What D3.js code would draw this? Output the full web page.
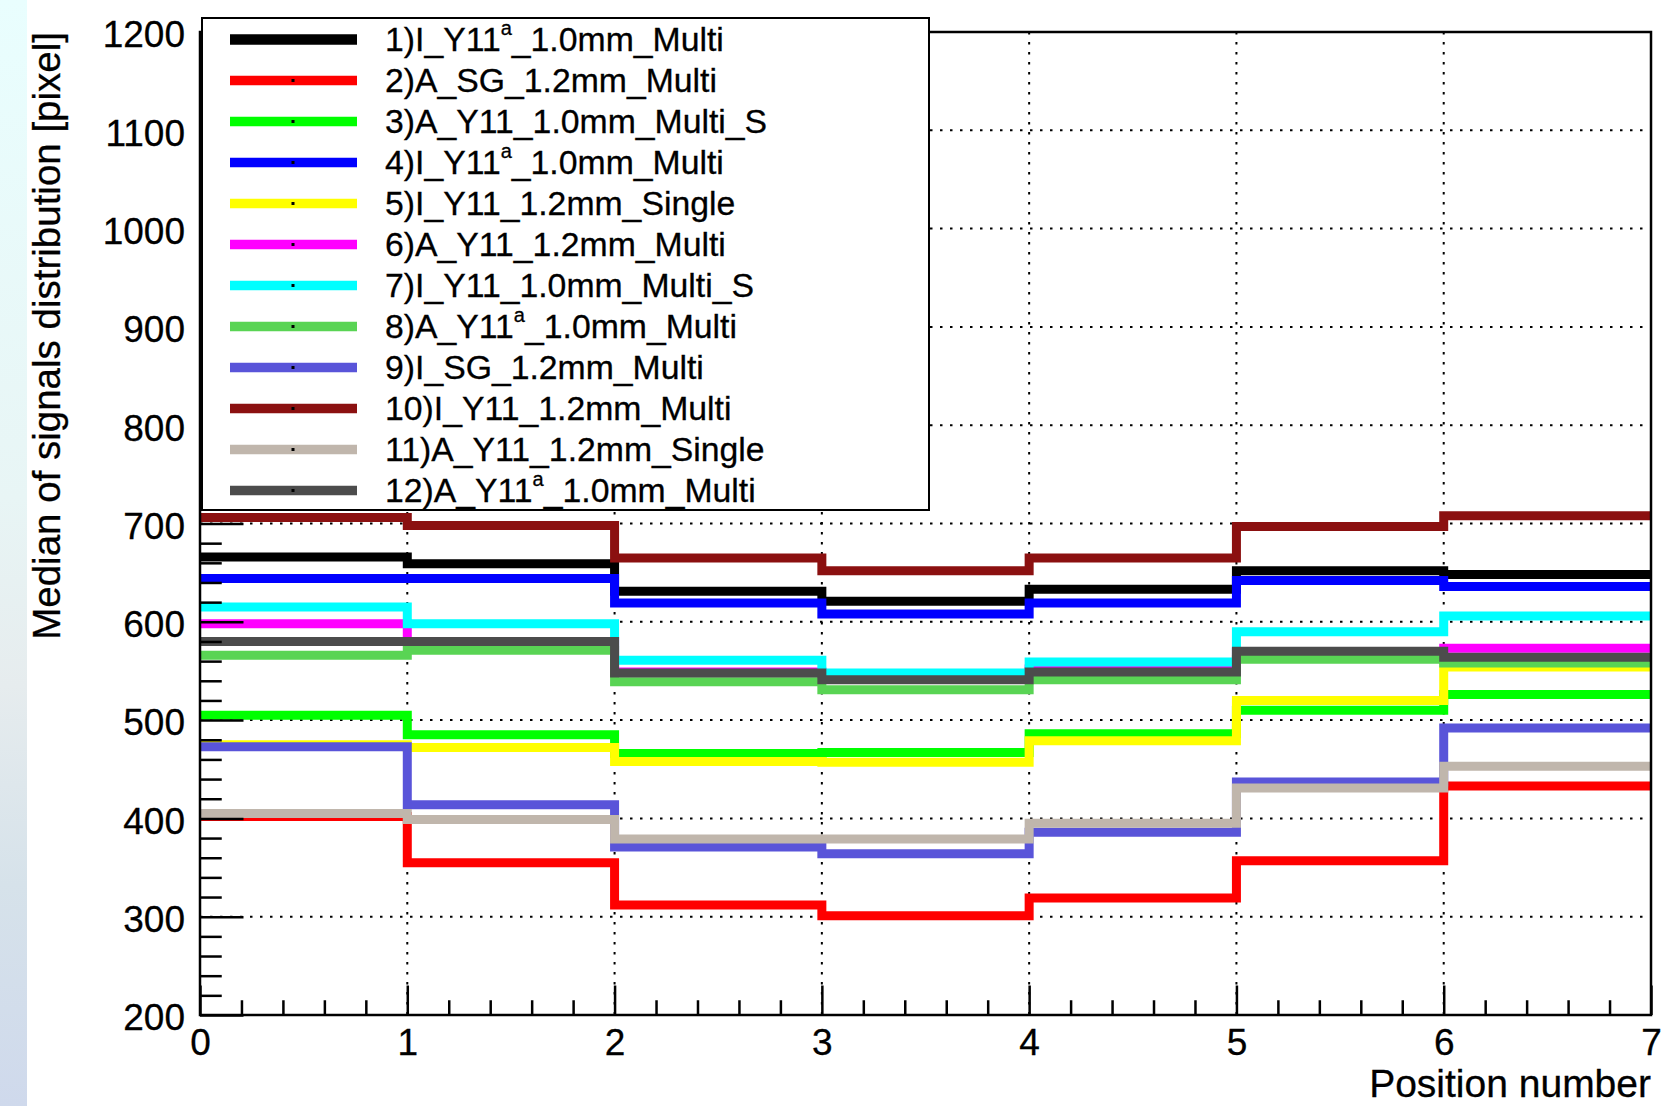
<!DOCTYPE html>
<html>
<head>
<meta charset="utf-8">
<script src="https://cdn.jsdelivr.net/npm/d3@7"></script>
<style>
  body { margin: 0; background: #ffffff; }
  text { font-family: "Liberation Sans", Arial, Helvetica, sans-serif; fill: #000; stroke: #000; stroke-width: 0.3px; }
</style>
</head>
<body>
<div id="graph"></div>
<script>
// Bin edges along the x axis (position number) and axis tick values
const binEdges = [0, 1, 2, 3, 4, 5, 6, 7]
const xTicks = [0, 1, 2, 3, 4, 5, 6, 7]
const yTicks = [200, 300, 400, 500, 600, 700, 800, 900, 1000, 1100, 1200]

// Legend labels ("^a" marks the superscript a)
const seriesNames = [
  "1)I_Y11^a_1.0mm_Multi",
  "2)A_SG_1.2mm_Multi",
  "3)A_Y11_1.0mm_Multi_S",
  "4)I_Y11^a_1.0mm_Multi",
  "5)I_Y11_1.2mm_Single",
  "6)A_Y11_1.2mm_Multi",
  "7)I_Y11_1.0mm_Multi_S",
  "8)A_Y11^a_1.0mm_Multi",
  "9)I_SG_1.2mm_Multi",
  "10)I_Y11_1.2mm_Multi",
  "11)A_Y11_1.2mm_Single",
  "12)A_Y11^a_1.0mm_Multi"
]
const seriesColors = ["#000000", "#ff0000", "#00ff00", "#0000ff", "#ffff00", "#ff00ff",
  "#00ffff", "#59d454", "#5954d9", "#8b1010", "#c0b6ac", "#4c4c4c"]

// Median per position bin (0-1, 1-2, ... 6-7)
const s1 = [666, 659, 631, 621, 633, 652, 648]
const s2 = [402, 355, 312, 301, 319, 357, 433]
const s3 = [505, 485, 466, 467, 486, 510, 526]
const s4 = [644, 644, 619, 608, 619, 642, 636]
const s5 = [475, 472, 458, 457, 479, 520, 554]
const s6 = [598, 580, 549, 542, 552, 569, 573]
const s7 = [615, 598, 561, 548, 559, 590, 606]
const s8 = [566, 571, 539, 531, 541, 562, 558]
const s9 = [473, 414, 371, 364, 386, 437, 492]
const s10 = [706, 698, 665, 652, 665, 697, 708]
const s11 = [405, 399, 379, 379, 395, 431, 453]
const s12 = [580, 580, 548, 541, 549, 570, 564]
const seriesValues = [s1, s2, s3, s4, s5, s6, s7, s8, s9, s10, s11, s12]

const width = 1665
const height = 1106

const svg = d3.select('#graph').append("svg").attr("width", width).attr("height", height)

// Plot frame
const margin = { top: 32, right: 14, bottom: 91, left: 200 }
const gWidth = width - margin.left - margin.right
const gHeight = height - margin.top - margin.bottom

// slide background strip on the far left
const grad = svg.append("defs").append("linearGradient")
  .attr("id", "strip").attr("x1", 0).attr("y1", 0).attr("x2", 0).attr("y2", 1)
grad.append("stop").attr("offset", "0").attr("stop-color", "#e9fefe")
grad.append("stop").attr("offset", "0.45").attr("stop-color", "#e8f5f5")
grad.append("stop").attr("offset", "0.62").attr("stop-color", "#e6ecee")
grad.append("stop").attr("offset", "0.8").attr("stop-color", "#d6e2ea")
grad.append("stop").attr("offset", "1").attr("stop-color", "#cfd9ec")
svg.append("rect").attr("x", 0).attr("y", 0).attr("width", 27).attr("height", height).attr("fill", "url(#strip)")

const graph = svg.append('g').attr("transform", `translate(${margin.left}, ${margin.top})`)

const xScale = d3.scaleLinear().domain([0, 7]).range([0, gWidth])
const yScale = d3.scaleLinear().domain([200, 1200]).range([gHeight, 0])

// Dotted grid
graph.append("g").selectAll("line").data(yTicks.slice(1, -1)).enter().append("line")
  .attr("x1", 0).attr("x2", gWidth)
  .attr("y1", d => yScale(d)).attr("y2", d => yScale(d))
  .attr("stroke", "#000").attr("stroke-width", 2).attr("stroke-dasharray", "2.5,7.5")
graph.append("g").selectAll("line").data(xTicks.slice(1, -1)).enter().append("line")
  .attr("y1", 0).attr("y2", gHeight)
  .attr("x1", d => xScale(d)).attr("x2", d => xScale(d))
  .attr("stroke", "#000").attr("stroke-width", 2).attr("stroke-dasharray", "2.5,7.5")

// Step histograms, drawn in order so later ones sit on top
const step = d3.line()
  .x(d => xScale(d[0]))
  .y(d => yScale(d[1]))
  .curve(d3.curveStepAfter)

seriesValues.forEach((vals, i) => {
  const pts = binEdges.map((e, k) => [e, vals[Math.min(k, vals.length - 1)]])
  graph.append("path")
    .attr("d", step(pts))
    .attr("fill", "none")
    .attr("stroke", seriesColors[i])
    .attr("stroke-width", 9)
    .attr("stroke-linejoin", "miter")
})

// Axes (ticks pointing inside)
const minorY = d3.range(200, 1201, 20).filter(v => v % 100 != 0)
const minorX = d3.range(0, 7.001, 0.2).map(v => +v.toFixed(1)).filter(v => v % 1 != 0)

graph.append('g').attr("class", "axis y-major")
  .call(d3.axisLeft(yScale).tickValues(yTicks).tickSizeInner(-43.5).tickSizeOuter(0).tickPadding(15).tickFormat(d3.format("d")))
graph.append('g').attr("class", "axis")
  .call(d3.axisLeft(yScale).tickValues(minorY).tickSizeInner(-21.75).tickSizeOuter(0).tickFormat(""))

graph.append('g').attr("class", "axis").attr("transform", `translate(0, ${gHeight})`)
  .call(d3.axisBottom(xScale).tickValues(xTicks).tickSizeInner(-29.5).tickSizeOuter(0).tickPadding(14).tickFormat(d3.format("d")))
graph.append('g').attr("class", "axis").attr("transform", `translate(0, ${gHeight})`)
  .call(d3.axisBottom(xScale).tickValues(minorX).tickSizeInner(-14.75).tickSizeOuter(0).tickFormat(""))

svg.selectAll(".axis .domain").remove()
svg.selectAll(".axis line").attr("stroke", "#000").attr("stroke-width", 2.5)
svg.selectAll(".axis text").attr("font-size", 37).attr("font-family", '"Liberation Sans", Arial, sans-serif').attr("fill", "#000")
svg.selectAll(".y-major text").attr("dy", "0.4em")

// Frame box
graph.append("rect").attr("x", 0).attr("y", 0).attr("width", gWidth).attr("height", gHeight)
  .attr("fill", "none").attr("stroke", "#000").attr("stroke-width", 2.5)

// Axis titles
svg.append("text")
  .attr("transform", `translate(60, ${margin.top}) rotate(-90)`)
  .attr("text-anchor", "end")
  .attr("font-size", 38.5)
  .text("Median of signals distribution [pixel]")

svg.append("text")
  .attr("x", margin.left + gWidth).attr("y", 1097)
  .attr("text-anchor", "end")
  .attr("font-size", 39)
  .text("Position number")

// Legend
const legend = svg.append("g")
legend.append("rect").attr("x", 202).attr("y", 18).attr("width", 727).attr("height", 492)
  .attr("fill", "#fff").attr("stroke", "#000").attr("stroke-width", 2)

seriesNames.forEach((name, i) => {
  const cy = 39.5 + 41 * i
  legend.append("line")
    .attr("x1", 230).attr("x2", 357).attr("y1", cy).attr("y2", cy)
    .attr("stroke", seriesColors[i]).attr("stroke-width", i == 0 ? 10.5 : 9.5)
  legend.append("rect").attr("x", 291.5).attr("y", cy - 1.5).attr("width", 3).attr("height", 3).attr("fill", "#000")

  const parts = name.split("^a")
  const t = legend.append("text").attr("x", 385).attr("y", cy + 11).attr("font-size", 33.75)
  t.append("tspan").text(parts[0])
  if (parts.length > 1) {
    t.append("tspan").attr("font-size", 20).attr("dx", 0).attr("dy", -16).text("a")
    t.append("tspan").attr("dx", 0).attr("dy", 16).text(parts[1])
  }
})
</script>
</body>
</html>
